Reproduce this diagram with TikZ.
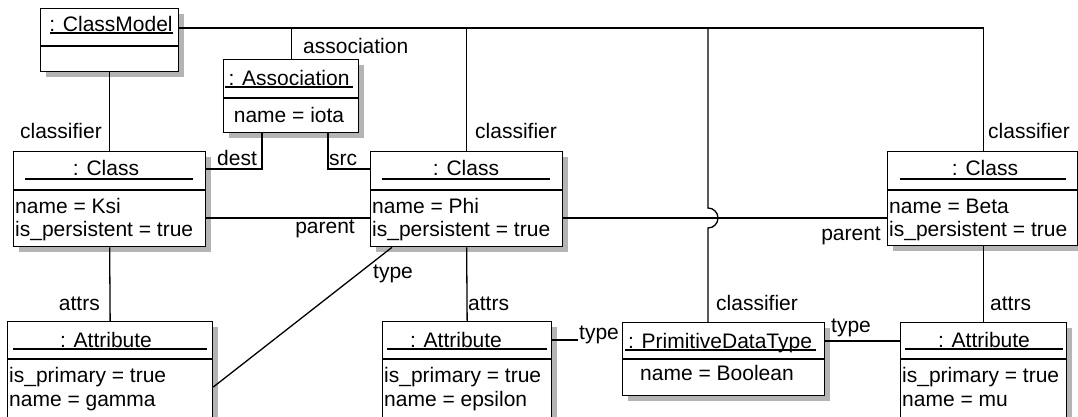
\documentclass[tikz,border=0pt]{standalone}
\usepackage{fontspec}
\setmainfont{Liberation Sans}
\definecolor{shadowgray}{RGB}{180,180,180}
\begin{document}
\begin{tikzpicture}[x=1pt,y=-1pt,
  conn/.style={line width=1.3pt},
  rule/.style={line width=1.3pt},
  objbox/.style={draw, line width=1.3pt, fill=white, inner sep=0pt, anchor=north west},
  shadowbox/.style={fill=shadowgray, draw=none, inner sep=0pt, anchor=north west},
  txt/.style={inner sep=0pt, font=\fontsize{21}{25}\selectfont},
  lbl/.style={txt}]
\useasboundingbox (0,0) rectangle (1078,416);

% ---------- shadows ----------
\fill[shadowgray] (46,14) rectangle (184,77);
\fill[shadowgray] (229,65) rectangle (364,138);
\fill[shadowgray] (19,157) rectangle (211,252);
\fill[shadowgray] (376,157) rectangle (568,252);
\fill[shadowgray] (893,157) rectangle (1083,251);
\fill[shadowgray] (13,327) rectangle (218,425);
\fill[shadowgray] (388,327) rectangle (557,425);
\fill[shadowgray] (628,328) rectangle (830,401);
\fill[shadowgray] (906,328) rectangle (1072,425);

% ---------- boxes ----------
\node[objbox, minimum width=138pt, minimum height=63pt] (cm) at (40,8) {};
\node[objbox, minimum width=135pt, minimum height=73pt] (assoc) at (223,59) {};
\node[objbox, minimum width=192pt, minimum height=95pt] (ksi) at (13,151) {};
\node[objbox, minimum width=192pt, minimum height=95pt] (phi) at (370,151) {};
\node[objbox, minimum width=190pt, minimum height=94pt] (beta) at (887,151) {};
\node[objbox, minimum width=205pt, minimum height=98pt] (gamma) at (7,321) {};
\node[objbox, minimum width=169pt, minimum height=98pt] (eps) at (382,321) {};
\node[objbox, minimum width=202pt, minimum height=73pt] (pdt) at (622,322) {};
\node[objbox, minimum width=166pt, minimum height=97pt] (mu) at (900,322) {};

% ---------- dividers ----------
\draw[rule] (cm.west |- 0,46) -- (cm.east |- 0,46);
\draw[rule] (assoc.west |- 0,98) -- (assoc.east |- 0,98);
\draw[rule] (ksi.west |- 0,190) -- (ksi.east |- 0,190);
\draw[rule] (phi.west |- 0,190) -- (phi.east |- 0,190);
\draw[rule] (beta.west |- 0,190) -- (beta.east |- 0,190);
\draw[rule] (gamma.west |- 0,359) -- (gamma.east |- 0,359);
\draw[rule] (eps.west |- 0,359) -- (eps.east |- 0,359);
\draw[rule] (pdt.west |- 0,359) -- (pdt.east |- 0,359);
\draw[rule] (mu.west |- 0,359) -- (mu.east |- 0,359);

% ---------- titles ----------
\node[txt, anchor=base] (cmT) at (111,31) {: ClassModel};
\node[txt, anchor=base] (assocT) at (289,85) {: Association};
\node[txt, anchor=base] (ksiT) at (106,175) {: Class};
\node[txt, anchor=base] (phiT) at (466,175) {: Class};
\node[txt, anchor=base] (betaT) at (985,175) {: Class};
\node[txt, anchor=base] (gammaT) at (106,347) {: Attribute};
\node[txt, anchor=base] (epsT) at (456,347) {: Attribute};
\node[txt, anchor=base] (muT) at (984,347) {: Attribute};
\node[txt, anchor=base] (pdtT) at (720,348) {: PrimitiveDataType};

% ---------- underlines ----------
\draw[rule] (50,33) -- (173,33);
\draw[rule] (225,87) -- (353,87);
\draw[rule] (25,179) -- (193,179);
\draw[rule] (382,179) -- (550,179);
\draw[rule] (900,179) -- (1066,179);
\draw[rule] (13,349) -- (207,349);
\draw[rule] (387,349) -- (547,349);
\draw[rule] (905,349) -- (1063,349);
\draw[rule] (625,350) -- (816,350);

% ---------- attribute values ----------
\node[txt, anchor=base] (assocA) at (289,122) {name = iota};
\node[txt, anchor=base west] (ksiA1) at (15,213) {name = Ksi};
\node[txt, anchor=base west] (ksiA2) at (15,236) {is\_persistent = true};
\node[txt, anchor=base west] (phiA1) at (372,213) {name = Phi};
\node[txt, anchor=base west] (phiA2) at (372,236) {is\_persistent = true};
\node[txt, anchor=base west] (betaA1) at (889,213) {name = Beta};
\node[txt, anchor=base west] (betaA2) at (889,236) {is\_persistent = true};
\node[txt, anchor=base west] (gammaA1) at (9,382) {is\_primary = true};
\node[txt, anchor=base west] (gammaA2) at (9,406) {name = gamma};
\node[txt, anchor=base west] (epsA1) at (384,382) {is\_primary = true};
\node[txt, anchor=base west] (epsA2) at (384,406) {name = epsilon};
\node[txt, anchor=base west] (muA1) at (902,382) {is\_primary = true};
\node[txt, anchor=base west] (muA2) at (902,406) {name = mu};
\node[txt, anchor=base] (pdtA) at (717,380) {name = Boolean};

% ---------- connectors ----------
\coordinate (jumpTop) at (708,208);
\draw[conn] (cm.east |- 0,28) -- (mu.north |- 0,28) -- (mu.north |- beta.north);
\draw[conn] (assoc.north) -- (assoc.north |- 0,28);
\draw[conn] (phi.north) -- (phi.north |- 0,28);
\draw[conn] (708,28) -- (jumpTop) arc[start angle=-90, end angle=90, radius=10] -- (pdt.north -| 708,0);
\draw[conn] (cm.south) -- (ksi.north);
\draw[conn] (ksi.south) -- (gamma.north);
\draw[conn] (phi.south) -- (eps.north);
\draw[conn] (mu.north |- beta.south) -- (mu.north);
\draw[conn] (ksi.east |- 0,218) -- (phi.west |- 0,218);
\draw[conn] (phi.east |- 0,218) -- (beta.west |- 0,218);
\draw[conn] (assoc.south -| 262,0) -- (262,169) -- (ksi.east |- 0,169);
\draw[conn] (assoc.south -| 328,0) -- (328,169) -- (phi.west |- 0,169);
\draw[conn] (gamma.east |- 0,387) -- (phi.south -| 392,0);
\draw[conn] (eps.east |- 0,340) -- (578,340);
\draw[conn] (pdt.east |- 0,341) -- (mu.west |- 0,341);

% ---------- labels ----------
\node[lbl, anchor=base west] (lAssoc) at (303,53) {association};
\node[lbl, anchor=base east] (lClsKsi) at (102,138) {classifier};
\node[lbl, anchor=base west] (lClsPhi) at (475,138) {classifier};
\node[lbl, anchor=base west] (lClsBeta) at (988,138) {classifier};
\node[lbl, anchor=base west] (lClsPdt) at (716,310) {classifier};
\node[lbl, anchor=base west] (lDest) at (217,165) {dest};
\node[lbl, anchor=base west] (lSrc) at (329,165) {src};
\node[lbl, anchor=base east] (lPar1) at (355,233) {parent};
\node[lbl, anchor=base east] (lPar2) at (881,240) {parent};
\node[lbl, anchor=base west] (lTypePhi) at (373,278) {type};
\node[lbl, anchor=base east] (lAttrG) at (100,310) {attrs};
\node[lbl, anchor=base west] (lAttrE) at (468,310) {attrs};
\node[lbl, anchor=base west] (lAttrM) at (990,310) {attrs};
\node[lbl, anchor=base west] (lTypeE) at (579,339) {type};
\node[lbl, anchor=base west] (lTypeM) at (831,332) {type};
\end{tikzpicture}
\end{document}
